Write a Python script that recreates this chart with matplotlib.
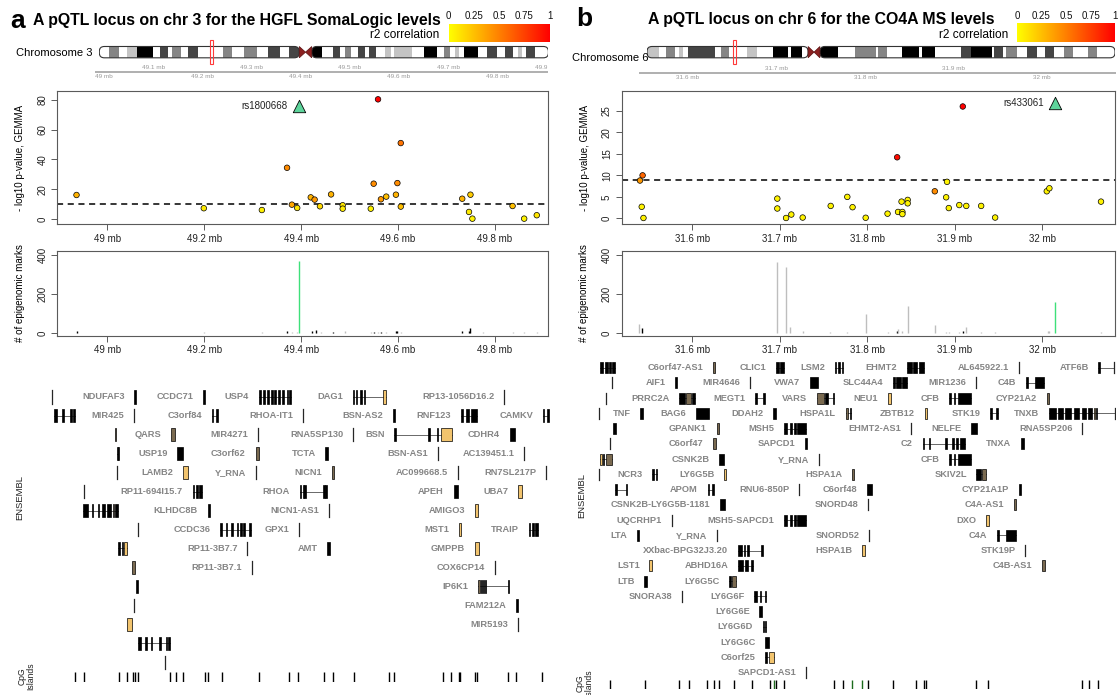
import numpy as np
import matplotlib
matplotlib.use("Agg")
import matplotlib.pyplot as plt
from matplotlib.patches import Rectangle, FancyBboxPatch, Polygon
from matplotlib.colors import LinearSegmentedColormap

W, H = 1118, 695
plt.rcParams['font.family'] = ['Liberation Sans', 'DejaVu Sans']

# ======================= DATA : panel a =======================
a_letter = "a"
a_title = "A pQTL locus on chr 3 for the HGFL SomaLogic levels"
a_chrom = "Chromosome 3"
a_chr_len = 198.3
a_centromere = (88.3, 93.8)
a_locus = (48.90, 49.91)
a_bands = [(0, 4.4, 'w'), (4.4, 8.9, 'g50'), (8.9, 12.3, 'w'), (12.3, 16.6, 'g25'), (16.6, 23.9, 'g100'),
           (23.9, 26.6, 'w'), (26.6, 30.5, 'g75'), (30.5, 32.1, 'w'), (32.1, 36.1, 'g50'), (36.1, 39.2, 'w'),
           (39.2, 43.5, 'g75'), (43.5, 54.6, 'w'), (54.6, 58.7, 'g50'), (58.7, 63.8, 'w'), (63.8, 69.8, 'g50'),
           (69.8, 74.5, 'w'), (74.5, 79.6, 'g75'), (79.6, 83.6, 'w'), (83.6, 88.3, 'g75'), (88.3, 93.8, 'acen'),
           (93.8, 98.3, 'g100'), (98.3, 103.0, 'w'), (103.0, 106.2, 'g75'), (106.2, 108.4, 'w'), (108.4, 111.3, 'g50'),
           (111.3, 114.1, 'w'), (114.1, 117.3, 'g75'), (117.3, 119.2, 'w'), (119.2, 122.0, 'g75'), (122.0, 126.3, 'w'),
           (126.3, 128.7, 'g25'), (128.7, 130.3, 'w'), (130.3, 138.2, 'g25'), (138.2, 143.2, 'w'), (143.2, 148.9, 'g100'),
           (148.9, 152.4, 'w'), (152.4, 154.9, 'g50'), (154.9, 157.2, 'w'), (157.2, 159.0, 'g25'), (159.0, 161.0, 'w'),
           (161.0, 167.4, 'g100'), (167.4, 171.1, 'w'), (171.1, 175.8, 'g75'), (175.8, 179.3, 'w'), (179.3, 182.8, 'g75'),
           (182.8, 185.0, 'w'), (185.0, 186.6, 'g25'), (186.6, 188.2, 'w'), (188.2, 192.3, 'g75'), (192.3, 198.3, 'w')]
a_scale_ticks = [49.0, 49.1, 49.2, 49.3, 49.4, 49.5, 49.6, 49.7, 49.8, 49.9]
a_scale_labels = ["49 mb", "49.1 mb", "49.2 mb", "49.3 mb", "49.4 mb", "49.5 mb", "49.6 mb", "49.7 mb", "49.8 mb", "49.9 mb"]

a_snp_pos = [48.936, 49.199, 49.319, 49.371, 49.381, 49.392, 49.420, 49.428, 49.439, 49.462,
             49.486, 49.486, 49.544, 49.550, 49.559, 49.565, 49.576, 49.596, 49.599, 49.606,
             49.606, 49.733, 49.750, 49.747, 49.754, 49.837, 49.861, 49.887]
a_snp_logp = [16.1, 7.2, 6.0, 34.4, 9.6, 7.4, 14.5, 13.0, 8.5, 16.5,
              9.2, 6.9, 6.9, 23.7, 80.4, 13.2, 15.0, 16.3, 24.1, 51.0,
              8.3, 13.6, 16.3, 4.7, 0.2, 8.7, 0.2, 2.5]
a_snp_r2 = [0.30, 0.08, 0.06, 0.45, 0.35, 0.10, 0.30, 0.40, 0.15, 0.30,
            0.10, 0.08, 0.05, 0.45, 1.00, 0.40, 0.25, 0.30, 0.45, 0.55,
            0.25, 0.30, 0.20, 0.08, 0.05, 0.25, 0.05, 0.10]
a_lead = (49.395, 76.2, "rs1800668")
a_threshold = 10.3
a_xticks = [49.0, 49.2, 49.4, 49.6, 49.8]
a_xticklabels = ["49 mb", "49.2 mb", "49.4 mb", "49.6 mb", "49.8 mb"]
a_yticks = [0, 20, 40, 60, 80]

a_epi_pos = [48.936, 49.199, 49.319, 49.371, 49.381, 49.392, 49.395, 49.423, 49.431, 49.441,
             49.465, 49.490, 49.544, 49.550, 49.559, 49.565, 49.576, 49.596, 49.599, 49.606,
             49.733, 49.747, 49.750, 49.776, 49.837, 49.861, 49.887]
a_epi_count = [8, 4, 4, 12, 6, 6, 368, 8, 15, 5,
               5, 12, 5, 5, 5, 5, 5, 8, 8, 5,
               10, 8, 25, 5, 5, 5, 5]
a_epi_col = ['k', 'g', 'g', 'k', 'g', 'g', 'G', 'k', 'k', 'g',
             'k', 'g', 'g', 'k', 'g', 'k', 'g', 'k', 'k', 'g',
             'k', 'k', 'k', 'g', 'g', 'g', 'g']

a_genes = [
    ('', 0, [(48.885, 48.885, 'l')]),
    ('NDUFAF3', 0, [(49.055, 49.059, 'k')]),
    ('CCDC71', 0, [(49.197, 49.202, 'k')]),
    ('USP4', 0, [(49.313, 49.318, 'k'), (49.322, 49.326, 'k'), (49.330, 49.333, 'k'), (49.337, 49.341, 'k'),
                 (49.344, 49.348, 'k'), (49.352, 49.356, 'k'), (49.360, 49.364, 'k'), (49.370, 49.373, 'k'),
                 (49.376, 49.379, 'k')]),
    ('DAG1', 0, [(49.507, 49.509, 'k'), (49.513, 49.515, 'k'), (49.522, 49.524, 'k'), (49.530, 49.532, 'k'),
                 (49.570, 49.575, 't')]),
    ('RP13-1056D16.2', 0, [(49.819, 49.819, 'l')]),
    ('', 1, [(48.889, 48.895, 'k'), (48.907, 48.911, 'k'), (48.922, 48.926, 'k'), (48.929, 48.933, 'k')]),
    ('MIR425', 1, [(49.054, 49.054, 'l')]),
    ('C3orf84', 1, [(49.215, 49.216, 'k'), (49.225, 49.226, 'k')]),
    ('RHOA-IT1', 1, [(49.404, 49.404, 'l')]),
    ('BSN-AS2', 1, [(49.590, 49.595, 'k')]),
    ('RNF123', 1, [(49.730, 49.735, 'k'), (49.740, 49.748, 'k'), (49.752, 49.763, 'k')]),
    ('CAMKV', 1, [(49.900, 49.901, 'k'), (49.909, 49.911, 'k')]),
    ('', 2, [(49.015, 49.016, 'd')]),
    ('QARS', 2, [(49.132, 49.139, 'd')]),
    ('MIR4271', 2, [(49.310, 49.310, 'l')]),
    ('RNA5SP130', 2, [(49.507, 49.507, 'l')]),
    ('BSN', 2, [(49.593, 49.594, 'k'), (49.663, 49.664, 'k'), (49.681, 49.683, 'k'), (49.690, 49.711, 't')]),
    ('CDHR4', 2, [(49.831, 49.841, 'k')]),
    ('', 3, [(49.019, 49.020, 'k'), (49.021, 49.022, 'k')]),
    ('USP19', 3, [(49.144, 49.156, 'k')]),
    ('C3orf62', 3, [(49.306, 49.313, 'd')]),
    ('TCTA', 3, [(49.450, 49.455, 'k')]),
    ('BSN-AS1', 3, [(49.683, 49.683, 'l')]),
    ('AC139451.1', 3, [(49.861, 49.861, 'l')]),
    ('', 4, [(49.020, 49.020, 'l')]),
    ('LAMB2', 4, [(49.157, 49.167, 't')]),
    ('Y_RNA', 4, [(49.307, 49.307, 'l')]),
    ('NICN1', 4, [(49.463, 49.468, 'd')]),
    ('AC099668.5', 4, [(49.724, 49.724, 'l')]),
    ('RN7SL217P', 4, [(49.906, 49.906, 'l')]),
    ('', 5, [(48.952, 48.952, 'l')]),
    ('RP11-694I15.7', 5, [(49.176, 49.178, 'k'), (49.183, 49.186, 'k'), (49.190, 49.196, 'k')]),
    ('RHOA', 5, [(49.397, 49.400, 'k'), (49.403, 49.405, 'k'), (49.407, 49.409, 'k'), (49.446, 49.447, 'k'),
                 (49.450, 49.452, 'k')]),
    ('APEH', 5, [(49.715, 49.724, 'k')]),
    ('UBA7', 5, [(49.848, 49.856, 't')]),
    ('', 6, [(48.950, 48.959, 'k'), (48.967, 48.969, 'k'), (48.980, 48.983, 'k'), (48.989, 48.995, 'k'),
             (49.000, 49.008, 'k'), (49.011, 49.014, 'd'), (49.016, 49.022, 'k')]),
    ('KLHDC8B', 6, [(49.207, 49.212, 'k')]),
    ('NICN1-AS1', 6, [(49.458, 49.458, 'l')]),
    ('AMIGO3', 6, [(49.759, 49.765, 't')]),
    ('', 7, [(49.064, 49.064, 'l')]),
    ('CCDC36', 7, [(49.233, 49.235, 'k'), (49.245, 49.247, 'k'), (49.256, 49.258, 'k'), (49.267, 49.270, 'k'),
                   (49.274, 49.277, 'k'), (49.281, 49.284, 'k'), (49.293, 49.296, 'k')]),
    ('GPX1', 7, [(49.395, 49.395, 'l')]),
    ('MST1', 7, [(49.726, 49.730, 't')]),
    ('TRAIP', 7, [(49.870, 49.874, 'k'), (49.878, 49.880, 'k'), (49.884, 49.889, 'k')]),
    ('', 8, [(49.022, 49.026, 'k'), (49.029, 49.033, 'k'), (49.035, 49.041, 't')]),
    ('RP11-3B7.7', 8, [(49.289, 49.289, 'l')]),
    ('AMT', 8, [(49.454, 49.460, 'k')]),
    ('GMPPB', 8, [(49.759, 49.767, 't')]),
    ('', 9, [(49.050, 49.056, 'd')]),
    ('RP11-3B7.1', 9, [(49.298, 49.298, 'l')]),
    ('COX6CP14', 9, [(49.800, 49.800, 'l')]),
    ('', 10, [(49.058, 49.064, 'k')]),
    ('IP6K1', 10, [(49.765, 49.769, 'd'), (49.771, 49.773, 'k'), (49.776, 49.778, 'k'), (49.780, 49.782, 'k'),
                   (49.827, 49.828, 'k')]),
    ('', 11, [(49.054, 49.054, 'l')]),
    ('FAM212A', 11, [(49.844, 49.848, 'k')]),
    ('', 12, [(49.041, 49.050, 't')]),
    ('MIR5193', 12, [(49.848, 49.848, 'l')]),
    ('', 13, [(49.064, 49.069, 'k'), (49.078, 49.081, 'k'), (49.089, 49.093, 'k'), (49.107, 49.111, 'k'),
              (49.120, 49.123, 'k'), (49.126, 49.130, 'k')]),
    ('', 14, [(49.118, 49.118, 'l')]),
]
a_cpg = [48.932, 48.952, 49.024, 49.041, 49.053, 49.056, 49.063, 49.130, 49.141, 49.156, 49.202, 49.207,
         49.236, 49.313, 49.376, 49.393, 49.448, 49.467, 49.510, 49.581, 49.593, 49.693, 49.710, 49.726,
         49.728, 49.759, 49.763, 49.828, 49.844, 49.898]
a_cpg_col = ['k'] * len(a_cpg)

# ======================= DATA : panel b =======================
b_letter = "b"
b_title = "A pQTL locus on chr 6 for the CO4A MS levels"
b_chrom = "Chromosome 6"
b_chr_len = 170.8
b_centromere = (58.8, 63.1)
b_locus = (31.52, 32.09)
b_bands = [(0, 4.4, 'g25'), (4.4, 7.0, 'w'), (7.0, 10.2, 'g50'), (10.2, 11.5, 'w'), (11.5, 13.2, 'g25'),
           (13.2, 14.9, 'w'), (14.9, 24.9, 'g75'), (24.9, 27.1, 'w'), (27.1, 30.0, 'g50'), (30.0, 36.5, 'w'),
           (36.5, 40.1, 'g25'), (40.1, 46.0, 'w'), (46.0, 51.4, 'g100'), (51.4, 52.7, 'w'), (52.7, 56.6, 'g100'),
           (56.6, 58.8, 'w'), (58.8, 63.1, 'acen'), (63.1, 69.8, 'g100'), (69.8, 75.8, 'w'), (75.8, 83.5, 'g50'),
           (83.5, 84.4, 'w'), (84.4, 87.7, 'g50'), (87.7, 92.9, 'w'), (92.9, 99.3, 'g100'), (99.3, 100.4, 'w'),
           (100.4, 105.2, 'g100'), (105.2, 114.5, 'w'), (114.5, 118.1, 'g75'), (118.1, 125.9, 'g100'),
           (125.9, 126.8, 'w'), (126.8, 130.1, 'g75'), (130.1, 131.1, 'w'), (131.1, 134.9, 'g50'),
           (134.9, 138.8, 'w'), (138.8, 142.3, 'g75'), (142.3, 145.3, 'w'), (145.3, 148.5, 'g75'),
           (148.5, 152.2, 'w'), (152.2, 155.3, 'g50'), (155.3, 160.9, 'w'), (160.9, 164.1, 'g50'),
           (164.1, 170.8, 'w')]
b_scale_ticks = [31.6, 31.7, 31.8, 31.9, 32.0]
b_scale_labels = ["31.6 mb", "31.7 mb", "31.8 mb", "31.9 mb", "32 mb"]

b_snp_pos = [31.540, 31.543, 31.542, 31.544, 31.697, 31.697, 31.707, 31.713, 31.726, 31.758,
             31.777, 31.783, 31.798, 31.823, 31.834, 31.835, 31.839, 31.840, 31.840, 31.846,
             31.846, 31.877, 31.890, 31.891, 31.893, 31.905, 31.909, 31.913, 31.930, 31.946,
             32.005, 32.008, 32.067]
b_snp_logp = [8.8, 10.0, 2.7, 0.1, 4.6, 2.3, 0.1, 0.9, 0.2, 2.9,
              5.0, 2.6, 0.15, 1.1, 14.2, 1.5, 3.9, 1.5, 1.0, 4.3,
              3.5, 6.3, 4.9, 8.5, 2.4, 3.1, 26.0, 2.9, 2.9, 0.2,
              6.3, 7.0, 3.9]
b_snp_r2 = [0.40, 0.60, 0.05, 0.05, 0.05, 0.05, 0.05, 0.05, 0.05, 0.05,
            0.05, 0.05, 0.05, 0.05, 0.95, 0.05, 0.05, 0.05, 0.05, 0.05,
            0.05, 0.45, 0.05, 0.05, 0.05, 0.05, 1.00, 0.05, 0.05, 0.05,
            0.05, 0.05, 0.05]
b_lead = (32.014, 26.7, "rs433061")
b_threshold = 9.0
b_xticks = [31.6, 31.7, 31.8, 31.9, 32.0]
b_xticklabels = ["31.6 mb", "31.7 mb", "31.8 mb", "31.9 mb", "32 mb"]
b_yticks = [0, 5, 10, 15, 20, 25]

b_epi_pos = [31.539, 31.542, 31.697, 31.707, 31.712, 31.726, 31.757, 31.777, 31.798, 31.823,
             31.834, 31.835, 31.839, 31.846, 31.877, 31.890, 31.893, 31.905, 31.909, 31.913,
             31.930, 31.946, 32.006, 32.008, 32.014, 32.067]
b_epi_count = [48, 24, 362, 337, 31, 8, 5, 5, 97, 5,
               8, 20, 10, 140, 41, 5, 5, 5, 8, 32,
               5, 5, 10, 8, 157, 5]
b_epi_col = ['g', 'k', 'g', 'g', 'g', 'g', 'g', 'g', 'g', 'g',
             'k', 'g', 'g', 'g', 'g', 'g', 'g', 'g', 'k', 'g',
             'g', 'g', 'g', 'g', 'G', 'g']

b_genes = [
    ('', 0, [(31.4943, 31.4975, 'k'), (31.4995, 31.5030, 'k'), (31.5050, 31.5065, 'k'), (31.5085, 31.5119, 'k')]),
    ('C6orf47-AS1', 0, [(31.6238, 31.6262, 'd')]),
    ('CLIC1', 0, [(31.6955, 31.6985, 'k'), (31.7000, 31.7045, 'k')]),
    ('LSM2', 0, [(31.7627, 31.7640, 'k'), (31.7665, 31.7680, 'k'), (31.7710, 31.7721, 'k')]),
    ('EHMT2', 0, [(31.8451, 31.8510, 'k'), (31.8525, 31.8570, 'k'), (31.8585, 31.8643, 'k')]),
    ('AL645922.1', 0, [(31.9730, 31.9730, 'l')]),
    ('ATF6B', 0, [(32.0639, 32.0650, 'k'), (32.0816, 32.0816, 'l')]),
    ('', 1, [(31.5078, 31.5078, 'l')]),
    ('AIF1', 1, [(31.5803, 31.5828, 'k')]),
    ('MIR4646', 1, [(31.6656, 31.6656, 'l')]),
    ('VWA7', 1, [(31.7344, 31.7434, 'k')]),
    ('SLC44A4', 1, [(31.8287, 31.8310, 'k'), (31.8330, 31.8380, 'k'), (31.8400, 31.8451, 'k')]),
    ('MIR1236', 1, [(31.9238, 31.9238, 'l')]),
    ('C4B', 1, [(31.9811, 31.9830, 'k'), (31.9910, 32.0016, 'k')]),
    ('', 2, [(31.5008, 31.5008, 'l')]),
    ('PRRC2A', 2, [(31.5848, 31.5920, 'k'), (31.5925, 31.5985, 'd'), (31.5990, 31.6033, 'k')]),
    ('MEGT1', 2, [(31.6717, 31.6730, 'k'), (31.6810, 31.6820, 'k')]),
    ('VARS', 2, [(31.7426, 31.7500, 'd'), (31.7515, 31.7550, 'k'), (31.7605, 31.7619, 'k')]),
    ('NEU1', 2, [(31.8234, 31.8275, 't')]),
    ('CFB', 2, [(31.8930, 31.8950, 'k'), (31.8985, 31.9005, 'k'), (31.9030, 31.9189, 'k')]),
    ('CYP21A2', 2, [(32.0049, 32.0078, 'd')]),
    ('', 3, [(31.4934, 31.4934, 'l')]),
    ('TNF', 3, [(31.5406, 31.5434, 'k')]),
    ('BAG6', 3, [(31.6041, 31.6184, 'k')]),
    ('DDAH2', 3, [(31.6926, 31.6959, 'k')]),
    ('HSPA1L', 3, [(31.7750, 31.7775, 'd'), (31.7800, 31.7811, 'k')]),
    ('ZBTB12', 3, [(31.8656, 31.8680, 't')]),
    ('STK19', 3, [(31.9402, 31.9420, 'k'), (31.9465, 31.9492, 'k')]),
    ('TNXB', 3, [(32.0078, 32.0160, 'k'), (32.0180, 32.0240, 'k'), (32.0260, 32.0330, 'k'), (32.0360, 32.0420, 'k'),
                 (32.0450, 32.0500, 'k'), (32.0520, 32.0570, 'k'), (32.0585, 32.0605, 't'), (32.0610, 32.0625, 'k'),
                 (32.0828, 32.0828, 'l')]),
    ('', 4, [(31.5090, 31.5131, 'k')]),
    ('GPANK1', 4, [(31.6275, 31.6307, 'd')]),
    ('MSH5', 4, [(31.7045, 31.7080, 'k'), (31.7115, 31.7135, 'k'), (31.7160, 31.7185, 'k'), (31.7200, 31.7300, 'k')]),
    ('EHMT2-AS1', 4, [(31.8500, 31.8500, 'l')]),
    ('NELFE', 4, [(31.9189, 31.9258, 'k')]),
    ('RNA5SP206', 4, [(32.0455, 32.0455, 'l')]),
    ('', 5, [(31.5057, 31.5057, 'l')]),
    ('C6orf47', 5, [(31.6238, 31.6266, 'd')]),
    ('SAPCD1', 5, [(31.7291, 31.7311, 'k')]),
    ('C2', 5, [(31.8631, 31.8640, 'k'), (31.8700, 31.8710, 'k'), (31.8890, 31.8900, 'k'), (31.8965, 31.8985, 'k'),
               (31.9010, 31.9035, 'k'), (31.9060, 31.9115, 'k')]),
    ('TNXA', 5, [(31.9758, 31.9791, 'k')]),
    ('', 6, [(31.4943, 31.4965, 't'), (31.4975, 31.4990, 'k'), (31.5015, 31.5078, 'd')]),
    ('CSNK2B', 6, [(31.6307, 31.6357, 'k')]),
    ('Y_RNA', 6, [(31.7443, 31.7443, 'l')]),
    ('CFB', 6, [(31.8930, 31.8950, 'k'), (31.8985, 31.9005, 'k'), (31.9030, 31.9189, 'k')]),
    ('', 7, [(31.4934, 31.4934, 'l')]),
    ('NCR3', 7, [(31.5541, 31.5548, 'k'), (31.5580, 31.5590, 'k')]),
    ('LY6G5B', 7, [(31.6361, 31.6389, 't')]),
    ('HSPA1A', 7, [(31.7820, 31.7844, 'd')]),
    ('SKIV2L', 7, [(31.9246, 31.9300, 'k'), (31.9305, 31.9361, 'd')]),
    ('', 8, [(31.5119, 31.5130, 'k'), (31.5235, 31.5242, 'k')]),
    ('APOM', 8, [(31.6172, 31.6185, 'k'), (31.6225, 31.6238, 'k')]),
    ('RNU6-850P', 8, [(31.7221, 31.7221, 'l')]),
    ('C6orf48', 8, [(31.8000, 31.8057, 'k')]),
    ('CYP21A1P', 8, [(31.9730, 31.9750, 'k')]),
    ('CSNK2B-LY6G5B-1181', 9, [(31.6316, 31.6377, 'k')]),
    ('SNORD48', 9, [(31.8008, 31.8008, 'l')]),
    ('C4A-AS1', 9, [(31.9676, 31.9701, 'd')]),
    ('UQCRHP1', 10, [(31.5762, 31.5762, 'l')]),
    ('MSH5-SAPCD1', 10, [(31.7045, 31.7080, 'k'), (31.7115, 31.7135, 'k'), (31.7160, 31.7185, 'k'),
                         (31.7200, 31.7300, 'k')]),
    ('DXO', 10, [(31.9361, 31.9389, 't')]),
    ('LTA', 11, [(31.5365, 31.5393, 'k')]),
    ('Y_RNA', 11, [(31.6279, 31.6279, 'l')]),
    ('SNORD52', 11, [(31.8020, 31.8020, 'l')]),
    ('C4A', 11, [(31.9480, 31.9500, 'k'), (31.9580, 31.9697, 'k')]),
    ('XXbac-BPG32J3.20', 12, [(31.6520, 31.6570, 'k'), (31.6585, 31.6605, 'k'), (31.6625, 31.6640, 'k'),
                              (31.6785, 31.6800, 'k')]),
    ('HSPA1B', 12, [(31.7934, 31.7967, 't')]),
    ('STK19P', 12, [(31.9803, 31.9803, 'l')]),
    ('LST1', 13, [(31.5508, 31.5537, 't')]),
    ('ABHD16A', 13, [(31.6520, 31.6580, 'k'), (31.6600, 31.6640, 'k'), (31.6665, 31.6697, 'k')]),
    ('C4B-AS1', 13, [(31.9996, 32.0025, 'd')]),
    ('LTB', 14, [(31.5447, 31.5475, 'k')]),
    ('LY6G5C', 14, [(31.6418, 31.6445, 'k'), (31.6455, 31.6500, 'd')]),
    ('SNORA38', 15, [(31.5885, 31.5885, 'l')]),
    ('LY6G6F', 15, [(31.6709, 31.6735, 'k'), (31.6770, 31.6780, 'k'), (31.6825, 31.6840, 'k')]),
    ('LY6G6E', 16, [(31.6766, 31.6799, 'k')]),
    ('LY6G6D', 17, [(31.6803, 31.6815, 'k'), (31.6830, 31.6840, 'k')]),
    ('LY6G6C', 18, [(31.6832, 31.6873, 'k')]),
    ('C6orf25', 19, [(31.6832, 31.6840, 'k'), (31.6880, 31.6930, 't')]),
    ('SAPCD1-AS1', 20, [(31.7303, 31.7303, 'l')]),
]
b_cpg = [31.5057, 31.5455, 31.5848, 31.5959, 31.6164, 31.6246, 31.6307, 31.6471, 31.6684, 31.6881,
         31.6934, 31.6955, 31.7045, 31.7619, 31.7721, 31.7824, 31.7939, 31.8008, 31.8287, 31.8553,
         31.8643, 31.8664, 31.9246, 31.9381, 32.0455, 32.0529, 32.0631]
b_cpg_col = ['k', 'k', 'k', 'k', 'k', 'k', 'k', 'k', 'k', 'k',
             'G', 'k', 'k', 'k', 'k', 'G', 'G', 'k', 'k', 'k',
             'k', 'k', 'k', 'k', 'k', 'k', 'k']

# ======================= STYLE / LAYOUT =======================
r2_cmap = LinearSegmentedColormap.from_list('r2', ['#FFFF00', '#FF0000'])
STAIN = {'w': '#FFFFFF', 'g25': '#C4C4C4', 'g50': '#858585', 'g75': '#454545', 'g100': '#000000'}
EXON_FACE = {'k': '#000000', 't': '#F2C46E', 'd': '#7A6A50'}
EPI_COL = {'k': '#000000', 'g': '#BEBEBE', 'G': '#3EE07A'}
CPG_COL = {'k': '#000000', 'G': '#1D6B1D'}
AX_COL = '#5A5A5A'
FS = 7.0

fig = plt.figure(figsize=(W / 100, H / 100), dpi=100)
renderer = fig.canvas.get_renderer()


def px_axes(x0, y0, x1, y1, **kw):
    return fig.add_axes([x0 / W, 1 - y1 / H, (x1 - x0) / W, (y1 - y0) / H], **kw)


def ftext(x, y, s, **kw):
    return fig.text(x / W, 1 - y / H, s, **kw)


def fit_text(x, y, s, width_px, **kw):
    t = ftext(x, y, s, **kw)
    bb = t.get_window_extent(renderer)
    t.set_fontsize(t.get_fontsize() * width_px / bb.width)
    return t


def style_axes(ax):
    for sp in ax.spines.values():
        sp.set_color(AX_COL)
        sp.set_linewidth(0.8)
    ax.tick_params(direction='out', length=4, width=0.7, color=AX_COL, labelsize=FS,
                   labelcolor='#222222', pad=3)
    ax.tick_params(axis='y', labelrotation=90)
    for lab in ax.get_yticklabels():
        lab.set_va('center')


def draw_ideogram(box, bands, cen, L, locus):
    ax = px_axes(*box)
    ylo, yhi = -0.75, 1.75
    ax.set_xlim(0, L)
    ax.set_ylim(ylo, yhi)
    ax.axis('off')
    w_px = box[2] - box[0]
    h_px = box[3] - box[1]
    xpp = L / w_px
    ypp = (yhi - ylo) / h_px
    rs = 5.0 * xpp
    ma = ypp / xpp
    arms = []
    spans = [(0, cen[0]), (cen[1], L)]
    for x0, x1 in spans:
        p = FancyBboxPatch((x0, 0), x1 - x0, 1, boxstyle=f"round,pad=0,rounding_size={rs}",
                           mutation_aspect=ma, facecolor='white', edgecolor='none', zorder=1)
        ax.add_patch(p)
        arms.append(p)
    for s, e, st in bands:
        if st == 'acen':
            continue
        arm = arms[0] if (s + e) / 2 < cen[0] else arms[1]
        r = Rectangle((s, 0), e - s, 1, facecolor=STAIN[st], edgecolor='none', zorder=2)
        ax.add_patch(r)
        r.set_clip_path(arm)
    for x0, x1 in spans:
        ax.add_patch(FancyBboxPatch((x0, 0), x1 - x0, 1, boxstyle=f"round,pad=0,rounding_size={rs}",
                                    mutation_aspect=ma, facecolor='none', edgecolor='#333333',
                                    lw=0.8, zorder=3))
    cm = (cen[0] + cen[1]) / 2
    ax.add_patch(Polygon([(cen[0], 0), (cen[0], 1), (cm, 0.5)], closed=True, facecolor='#8B2020',
                         edgecolor='#5A1010', lw=0.5, zorder=4))
    ax.add_patch(Polygon([(cen[1], 0), (cen[1], 1), (cm, 0.5)], closed=True, facecolor='#8B2020',
                         edgecolor='#5A1010', lw=0.5, zorder=4))
    ax.add_patch(Rectangle((locus[0], -0.55), max(locus[1] - locus[0], 2.5 * xpp), 2.1, fill=False,
                           edgecolor='#FF3A3A', lw=0.8, zorder=5))


def draw_scale(box, line_y, xlim, ticks, labels):
    ax = px_axes(*box)
    ax.set_xlim(*xlim)
    ax.set_ylim(-(box[3] - line_y), line_y - box[1])
    ax.axis('off')
    ax.plot(xlim, [0, 0], color='#A9A9A9', lw=1.3, solid_capstyle='butt', clip_on=True)
    for i, (t, lab) in enumerate(zip(ticks, labels)):
        if i % 2 == 0:
            ax.text(t, -2.0, lab, ha='center', va='top', fontsize=4.6, color='#9A9A9A', clip_on=True)
        else:
            ax.text(t, 2.0, lab, ha='center', va='bottom', fontsize=4.6, color='#9A9A9A', clip_on=True)


def draw_colorbar(box):
    ax = px_axes(*box)
    grad = np.linspace(0, 1, 256).reshape(1, -1)
    ax.imshow(grad, cmap=r2_cmap, aspect='auto', extent=(0, 1, 0, 1))
    ax.set_xlim(0, 1)
    for sp in ax.spines.values():
        sp.set_visible(False)
    ax.set_yticks([])
    ax.xaxis.tick_top()
    ax.set_xticks([0, 0.25, 0.5, 0.75, 1])
    ax.set_xticklabels(['0', '0.25', '0.5', '0.75', '1'])
    ax.tick_params(axis='x', length=0, pad=2, labelsize=FS, labelcolor='#111111')


def draw_scatter(box, xlim, ylim, pos, logp, r2, lead, thr, xticks, xticklabels, yticks):
    ax = px_axes(*box)
    ax.set_xlim(*xlim)
    ax.set_ylim(*ylim)
    ax.axhline(thr, color='k', lw=1.1, ls=(0, (4, 3)), zorder=2)
    ax.scatter(pos, logp, c=r2, cmap=r2_cmap, vmin=0, vmax=1, s=16, edgecolors='k',
               linewidths=0.5, zorder=3)
    ax.scatter([lead[0]], [lead[1]], marker='^', s=80, c='#5DD49B', edgecolors='k',
               linewidths=0.6, zorder=4)
    ax.annotate(lead[2], (lead[0], lead[1]), xytext=(-8, 0), textcoords='offset points',
                ha='right', va='center', fontsize=FS, color='#222222')
    ax.set_xticks(xticks)
    ax.set_xticklabels(xticklabels)
    ax.set_yticks(yticks)
    style_axes(ax)
    return ax


def draw_epi(box, xlim, pos, counts, cols, xticks, xticklabels):
    ax = px_axes(*box)
    ax.set_xlim(*xlim)
    ax.set_ylim(-14, 422)
    ax.vlines(pos, 0, counts, colors=[EPI_COL[c] for c in cols], lw=1.0, zorder=2)
    ax.set_xticks(xticks)
    ax.set_xticklabels(xticklabels)
    ax.set_yticks([0, 200, 400])
    style_axes(ax)
    return ax


def draw_genes(box, xlim, genes, nrows, h):
    ax = px_axes(*box)
    ax.set_xlim(*xlim)
    ax.set_ylim(nrows - 0.5, -0.5)
    ax.axis('off')
    min_w = 1.4 * (xlim[1] - xlim[0]) / (box[2] - box[0])
    for name, row, exons in genes:
        xs = [e[0] for e in exons] + [e[1] for e in exons]
        g0, g1 = min(xs), max(xs)
        if len(exons) > 1:
            ax.plot([g0, g1], [row, row], color='#505050', lw=0.6, zorder=1)
        for s, e, c in exons:
            if c == 'l':
                ax.plot([s, s], [row - h / 2, row + h / 2], color='#262626', lw=0.9, zorder=2)
            else:
                ax.add_patch(Rectangle((s, row - h / 2), max(e - s, min_w), h, facecolor=EXON_FACE[c],
                                       edgecolor='k', lw=0.5, zorder=2))
        if name:
            ax.annotate(name, (g0, row), xytext=(-7, 0), textcoords='offset points', ha='right',
                        va='center', fontsize=6.7, fontweight='bold', color='#858585')
    return ax


def draw_cpg(box, xlim, pos, cols):
    ax = px_axes(*box)
    ax.set_xlim(*xlim)
    ax.set_ylim(0, 1)
    ax.axis('off')
    ax.vlines(pos, 0, 1, colors=[CPG_COL[c] for c in cols], lw=1.0)


def remap(xlim, box, nb):
    ppm = (box[2] - box[0]) / (xlim[1] - xlim[0])
    return (xlim[0] + (nb[0] - box[0]) / ppm, xlim[0] + (nb[2] - box[0]) / ppm)


# ----------------------------- panel a -----------------------------
ftext(10, 21.5, a_letter, fontsize=19, fontweight='bold', ha='left', va='center')
fit_text(33, 20.7, a_title, 405, fontsize=12, fontweight='bold', ha='left', va='center')
ftext(439, 35, "r2 correlation", fontsize=8.6, ha='right', va='center')
draw_colorbar((448.7, 24, 549.5, 42.3))
ftext(16, 52.7, a_chrom, fontsize=8, ha='left', va='center')
draw_ideogram((99.3, 38, 548.4, 66.3), a_bands, a_centromere, a_chr_len, a_locus)
draw_scale((95, 60, 548, 84), 71.7, (48.9816, 49.9033), a_scale_ticks, a_scale_labels)

a_sc_box = (57.3, 91, 547.7, 224)
a_xlim = (48.8963, 49.9096)
draw_scatter(a_sc_box, a_xlim, (-3.4, 86), a_snp_pos, a_snp_logp, a_snp_r2, a_lead, a_threshold,
             a_xticks, a_xticklabels, a_yticks)
ftext(20, 157.5, "- log10 p-value, GEMMA", rotation=90, fontsize=FS, ha='center', va='center')
draw_epi((57.3, 250.7, 547.7, 335.7), a_xlim, a_epi_pos, a_epi_count, a_epi_col, a_xticks, a_xticklabels)
ftext(20, 293, "# of epigenomic marks", rotation=90, fontsize=FS, ha='center', va='center')

a_gene_box = (45, 387.5, 552, 671.6)
a_gxlim = remap(a_xlim, a_sc_box, a_gene_box)
draw_genes(a_gene_box, a_gxlim, a_genes, 15, 0.69)
ftext(20, 498, "ENSEMBL", rotation=90, fontsize=6.8, ha='center', va='center', color='#222222')
a_cpg_box = (45, 672, 552, 682)
draw_cpg(a_cpg_box, remap(a_xlim, a_sc_box, a_cpg_box), a_cpg, a_cpg_col)
ftext(26, 676, "CpG\nIslands", rotation=90, fontsize=6.2, ha='center', va='center', color='#222222',
      linespacing=0.95)

# ----------------------------- panel b -----------------------------
ftext(576, 18.5, b_letter, fontsize=19, fontweight='bold', ha='left', va='center')
fit_text(647.8, 19.3, b_title, 346, fontsize=12, fontweight='bold', ha='left', va='center')
ftext(1008, 35, "r2 correlation", fontsize=8.6, ha='right', va='center')
draw_colorbar((1017, 23.3, 1115, 41.7))
ftext(572.5, 58, b_chrom, fontsize=8, ha='left', va='center')
draw_ideogram((647, 38, 1115, 66.3), b_bands, b_centromere, b_chr_len, b_locus)
draw_scale((639, 62, 1116, 86), 73.3, (31.5446, 32.0836), b_scale_ticks, b_scale_labels)

b_sc_box = (621.6, 91, 1115, 224)
b_xlim = (31.519, 32.083)
draw_scatter(b_sc_box, b_xlim, (-1.3, 29.6), b_snp_pos, b_snp_logp, b_snp_r2, b_lead, b_threshold,
             b_xticks, b_xticklabels, b_yticks)
ftext(585, 157.5, "- log10 p-value, GEMMA", rotation=90, fontsize=FS, ha='center', va='center')
draw_epi((621.6, 250.7, 1115, 335.7), b_xlim, b_epi_pos, b_epi_count, b_epi_col, b_xticks, b_xticklabels)
ftext(584, 293, "# of epigenomic marks", rotation=90, fontsize=FS, ha='center', va='center')

b_gene_box = (595, 360.1, 1116, 680.3)
b_gxlim = remap(b_xlim, b_sc_box, b_gene_box)
draw_genes(b_gene_box, b_gxlim, b_genes, 21, 0.72)
ftext(582, 496, "ENSEMBL", rotation=90, fontsize=6.8, ha='center', va='center', color='#222222')
b_cpg_box = (595, 679.5, 1116, 689)
draw_cpg(b_cpg_box, remap(b_xlim, b_sc_box, b_cpg_box), b_cpg, b_cpg_col)
ftext(584, 683, "CpG\nIslands", rotation=90, fontsize=6.2, ha='center', va='center', color='#222222',
      linespacing=0.95)

fig.savefig("out.png", dpi=100)
